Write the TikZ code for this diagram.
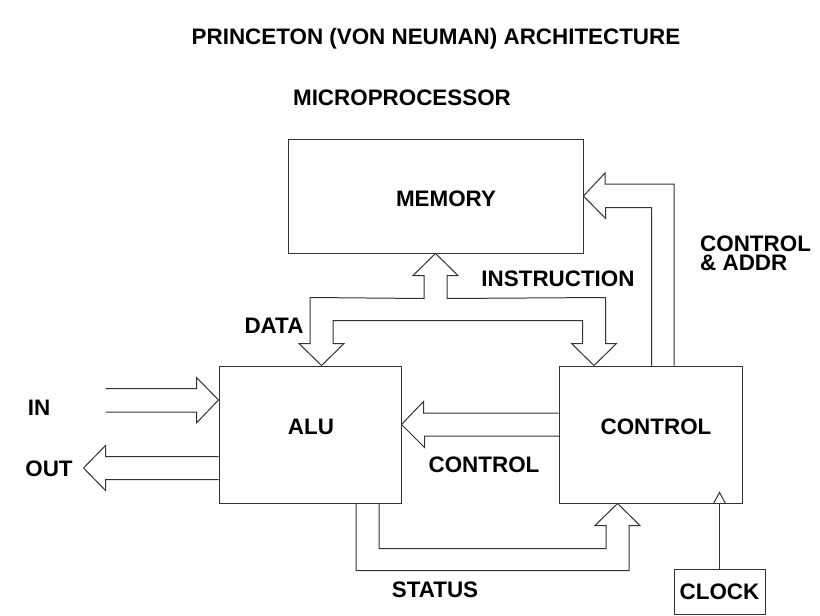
\documentclass[tikz,border=0pt]{standalone}
\usepackage{fontspec}
\setmainfont{Liberation Sans}
\usetikzlibrary{calc}
\definecolor{linec}{gray}{0.2}
\tikzset{
    blk/.style={draw=linec, line width=1pt, inner sep=0pt},
    lbl/.style={font=\bfseries\fontsize{22.4}{19}\selectfont, inner sep=0pt},
    bus/.style={draw=linec, line width=1pt, line join=miter},
}
\begin{document}
\begin{tikzpicture}[x=1pt, y=-1pt]
        \fill [white] (0, 0) rectangle (820, 616);
        \useasboundingbox (0, 0) rectangle (820, 616);
        % blocks
        \node [blk, minimum width=295pt, minimum height=114pt] (mem) at (435.5, 196) {};
        \node [blk, minimum width=182pt, minimum height=137pt] (alu) at (310, 434.5) {};
        \node [blk, minimum width=183pt, minimum height=137pt] (ctrl) at (650.5, 434.5) {};
        \node [blk, minimum width=91pt, minimum height=45pt] (clk) at (719.5, 591.5) {};
        \coordinate (atip) at ($(alu.north)+(11.5, 0)$);
        \coordinate (ctip) at ($(ctrl.north)+(-56.5, 0)$);
        \coordinate (stip) at ($(ctrl.south)+(-33, 0)$);
        % data / instruction bus
        \draw [bus] (mem.south) -- ++(22.5, 22) -- ++(-11, 0) -- ++(0, 23)
            -- ($(ctip)+(11.5, -68)$) -- ++(0, 46) -- ++(11, 0) -- (ctip) -- ++(-22.5, -22) -- ++(11, 0)
            -- ++(0, -23) -- ($(atip)+(11.5, -45)$) -- ++(0, 23) -- ++(11, 0) -- (atip) -- ++(-22.5, -22)
            -- ++(11, 0) -- ++(0, -46) -- ($(mem.south)+(-11.5, 45)$) -- ++(0, -23) -- ++(-11, 0) -- cycle;
        % control & addr
        \draw [bus] ($(ctrl.north)+(23.5, 0)$) -- ++(0, -181.5) -- ++(-69, 0) -- ++(0, -11) -- (mem.east)
            -- ++(22, 22.5) -- ++(0, -11) -- ++(46, 0) -- ++(0, 158.5);
        % in / out
        \draw [bus] ($(alu.north west)+(-113, 23)$) -- ++(91, 0) -- ++(0, -11) -- ($(alu.north west)+(0, 34.5)$)
            -- ++(-22, 23) -- ++(0, -11) -- ++(-91, 0);
        \draw [bus] ($(alu.north west)+(0, 91)$) -- ++(-113, 0) -- ++(0, -11) -- ++(-22, 22.5)
            -- ++(22, 22.5) -- ++(0, -11) -- ++(113, 0);
        % control to alu
        \draw [bus] ($(ctrl.west)+(0, -21.5)$) -- ++(-135, 0) -- ++(0, -11.5) -- ($(alu.east)+(0, -10)$)
            -- ++(23, 23) -- ++(0, -11.5) -- ++(135, 0);
        % status
        \draw [bus] ($(alu.south)+(46, 0)$) -- ++(0, 67) -- ++(273, 0) -- ++(0, -45) -- ++(11, 0) -- (stip)
            -- ++(-22.5, 22) -- ++(11, 0) -- ++(0, 23) -- ++(-227, 0) -- ++(0, -45);
        % clock
        \draw [bus] (clk.north) -- (clk.north |- ctrl.south);
        \draw [bus] ($(clk.north |- ctrl.south)+(-6, 0)$) -- ++(6, -11) -- ++(6, 11);
        % texts
        \node [lbl] (title) at (436, 39) {PRINCETON (VON NEUMAN) ARCHITECTURE};
        \node [lbl] (sub) at (402, 98) {MICROPROCESSOR};
        \node [lbl] (memtxt) at (446, 199) {MEMORY};
        \node [lbl] (alutxt) at (311, 427) {ALU};
        \node [lbl] (ctrltxt) at (656, 427) {CONTROL};
        \node [lbl] (clktxt) at (719.5, 592) {CLOCK};
        \node [lbl] (instr) at (558, 279) {INSTRUCTION};
        \node [lbl, align=left, anchor=west] (addr) at (700, 253.5) {CONTROL\\\& ADDR};
        \node [lbl] (data) at (274, 326) {DATA};
        \node [lbl] (in) at (39, 408) {IN};
        \node [lbl] (out) at (49, 469) {OUT};
        \node [lbl] (ctrlsig) at (484, 465) {CONTROL};
        \node [lbl] (status) at (435, 590) {STATUS};
\end{tikzpicture}
\end{document}
